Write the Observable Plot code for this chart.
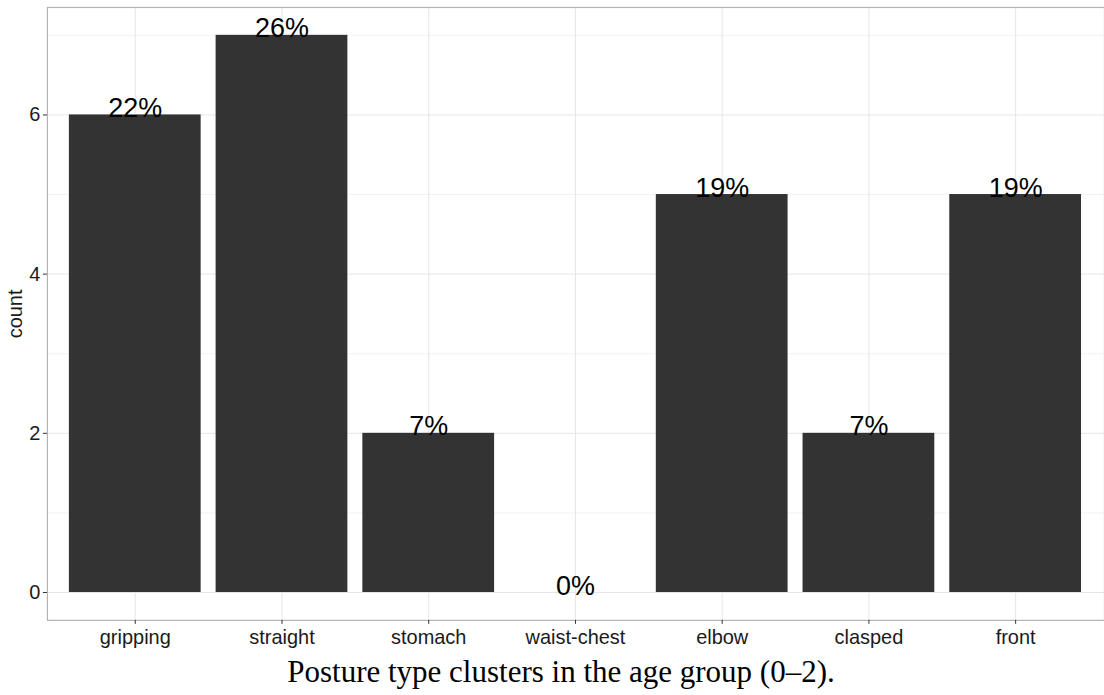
<!DOCTYPE html>
<html>
<head>
<meta charset="utf-8">
<script src="https://cdn.jsdelivr.net/npm/d3@7"></script>
<script src="https://cdn.jsdelivr.net/npm/@observablehq/plot@0.6"></script>
<style>
  html, body { margin: 0; padding: 0; background: #fff; overflow: hidden; }
  #chart { width: 1104px; overflow: hidden; }
  #chart svg { display: block; }
  #caption {
    font-family: "Liberation Serif", "DejaVu Serif", serif;
    font-size: 31px;
    line-height: 40px;
    text-align: center;
    padding-left: 18px;
    margin-top: 3px;
    color: #000;
    width: 1104px;
    box-sizing: border-box;
  }
</style>
</head>
<body>
<div id="chart"></div>
<div id="caption">Posture type clusters in the age group (0–2).</div>
<script>
const categories = ["gripping", "straight", "stomach", "waist-chest", "elbow", "clasped", "front"];
const counts = [6, 7, 2, 0, 5, 2, 5];
const percentLabels = ["22%", "26%", "7%", "0%", "19%", "7%", "19%"];
const yMajorTicks = [0, 2, 4, 6];
const yMinorTicks = [1, 3, 5, 7];

const data = categories.map((c, i) => ({category: c, count: counts[i], label: percentLabels[i]}));

const chart = Plot.plot({
  width: 1106,
  height: 650,
  marginLeft: 47,
  marginRight: 0,
  marginTop: 7,
  marginBottom: 29,
  style: {fontFamily: "Arial, 'Liberation Sans', sans-serif", fontSize: "20px", background: "#fff"},
  x: {domain: categories, paddingInner: 0.1, paddingOuter: 0.15, label: null},
  y: {domain: [-0.35, 7.35], label: null},
  marks: [
    Plot.ruleY(yMinorTicks, {stroke: "#f2f2f2", strokeWidth: 1}),
    Plot.ruleY(yMajorTicks, {stroke: "#e6e6e6", strokeWidth: 1}),
    Plot.ruleX(categories, {x: d => d, stroke: "#e6e6e6", strokeWidth: 1}),
    Plot.barY(data, {x: "category", y: "count", fill: "#333333"}),
    Plot.text(data, {x: "category", y: "count", text: "label", fontSize: 27, fill: "#000", lineAnchor: "bottom", dy: 2}),
    Plot.frame({stroke: "#b3b3b3", strokeWidth: 1.2}),
    Plot.axisY({ticks: yMajorTicks, tickSize: 4, tickPadding: 3, color: "#1a1a1a", stroke: "#333", label: "count", labelAnchor: "center", labelArrow: "none", labelOffset: 40}),
    Plot.axisX({tickSize: 4, tickPadding: 5, color: "#1a1a1a", stroke: "#333", label: null})
  ]
});
document.getElementById("chart").appendChild(chart);
</script>
</body>
</html>
